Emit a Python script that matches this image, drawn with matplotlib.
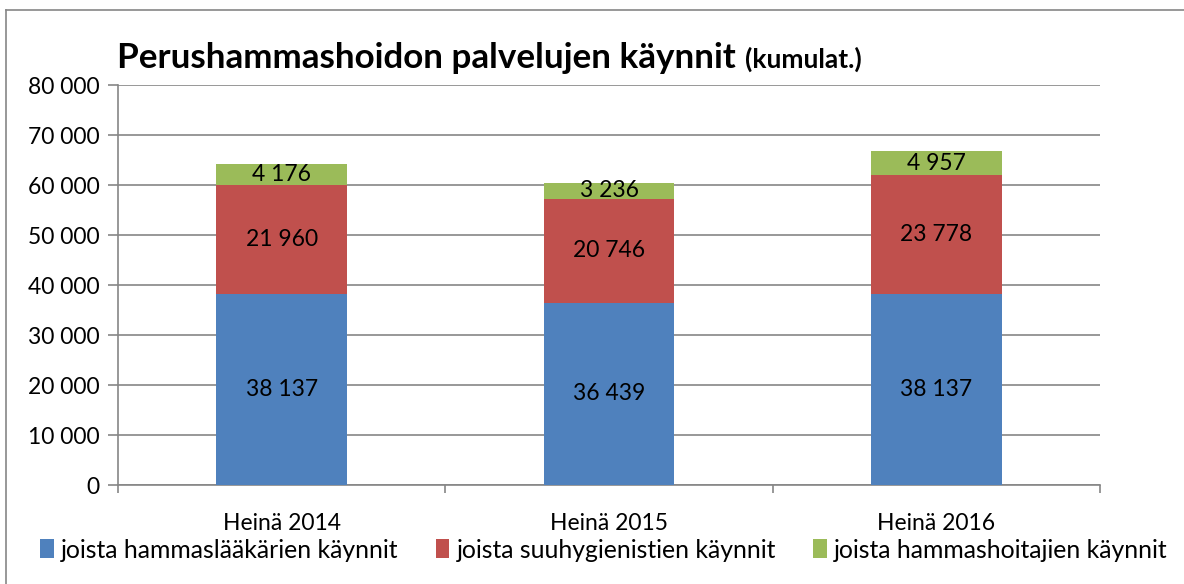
import matplotlib
matplotlib.use("Agg")
import matplotlib.pyplot as plt
from matplotlib.lines import Line2D
from matplotlib.patches import Patch
import numpy as np

plt.rcParams['font.family'] = ['Lato', 'DejaVu Sans']

categories = ["Heinä 2014", "Heinä 2015", "Heinä 2016"]
series_names = ["joista hammaslääkärien käynnit", "joista suuhygienistien käynnit",
                "joista hammashoitajien käynnit"]
hammaslaakari = [38137, 36439, 38137]
suuhygienisti = [21960, 20746, 23778]
hammashoitaja = [4176, 3236, 4957]
colors = ["#4F81BD", "#C0504D", "#9BBB59"]
yticks = [0, 10000, 20000, 30000, 40000, 50000, 60000, 70000, 80000]
ytick_labels = ["0", "10 000", "20 000", "30 000", "40 000", "50 000", "60 000", "70 000", "80 000"]

def fmt(v):
    return f"{v:,}".replace(",", " ")

W, H = 1184, 584
fig = plt.figure(figsize=(W / 100, H / 100), dpi=100)
ax = fig.add_axes([118 / W, 1 - 485 / H, (1100 - 118) / W, (485 - 85) / H])

x = np.arange(len(categories))
series = [hammaslaakari, suuhygienisti, hammashoitaja]
bottom = np.zeros(len(categories))
for vals, c, name in zip(series, colors, series_names):
    vals = np.array(vals, dtype=float)
    ax.bar(x, vals, width=0.4, bottom=bottom, color=c, label=name, zorder=3)
    for xi, b, v in zip(x, bottom, vals):
        ax.text(xi, b + v / 2, fmt(int(v)), ha='center', va='center', fontsize=16.5,
                color='black', zorder=4)
    bottom += vals

ax.set_xlim(-0.5, len(categories) - 0.5)
ax.set_ylim(0, 80000)
ax.set_yticks(yticks)
ax.set_yticklabels(ytick_labels, fontsize=16.5)
ax.yaxis.grid(True, color='#868686', linewidth=1.2, zorder=0)
ax.set_xticks(x)
ax.set_xticklabels(categories, fontsize=16.5)
ax.tick_params(axis='x', length=0, pad=20)
ax.set_xticks(np.arange(-0.5, len(categories)), minor=True)
ax.tick_params(axis='x', which='minor', length=6, color='#868686', width=1.2)
ax.tick_params(axis='y', length=7, color='#868686', width=1.2, pad=6)
for s in ['top', 'right']:
    ax.spines[s].set_visible(False)
for s in ['left', 'bottom']:
    ax.spines[s].set_color('#868686')
    ax.spines[s].set_linewidth(1.2)

# Title
t = fig.text(117 / W, 1 - 68 / H, "Perushammashoidon palvelujen käynnit", fontsize=25.2,
             fontweight='bold', ha='left', va='baseline')
fig.canvas.draw()
bb = t.get_window_extent()
fig.text((bb.x1 + 9) / W, 1 - 68 / H, "(kumulat.)", fontsize=19, fontweight='bold',
         ha='left', va='baseline')

# Legend
handles = [Patch(facecolor=c, edgecolor='none') for c in colors]
fig.legend(handles, series_names, loc='center', bbox_to_anchor=(0.51, 1 - 550 / H),
           ncol=3, frameon=False, fontsize=17.8, handlelength=0.55, handleheight=0.8,
           handletextpad=0.3, columnspacing=1.5)

# Outer chart border (left and top visible)
fig.add_artist(Line2D([6 / W, 6 / W], [0, 1 - 10 / H], transform=fig.transFigure,
                      color='#868686', linewidth=1.2))
fig.add_artist(Line2D([6 / W, 1], [1 - 10 / H, 1 - 10 / H], transform=fig.transFigure,
                      color='#868686', linewidth=1.2))

fig.savefig("out.png", dpi=100)
